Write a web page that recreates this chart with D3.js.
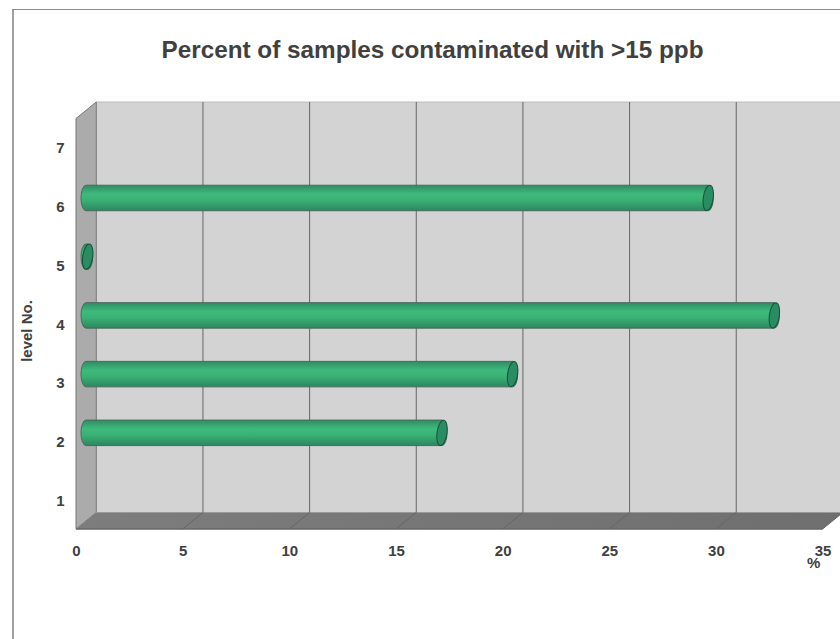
<!DOCTYPE html>
<html><head><meta charset="utf-8">
<script src="https://cdn.jsdelivr.net/npm/d3@7"></script>
<style>html,body{margin:0;background:#fff}svg{display:block;font-family:"Liberation Sans",Arial,sans-serif}</style>
</head><body><svg id="c" width="840" height="639"></svg>
<script>
const levels=[1,2,3,4,5,6,7];
const percents=[null,16.69,20.0,32.27,0.08,29.17,null];
const xTicks=[0,5,10,15,20,25,30,35];
const title="Percent of samples contaminated with >15 ppb";
const xTitle="%";
const yTitle="level No.";

const svg=d3.select("#c");
const x=d3.scaleLinear().domain([0,35]).range([76,822.6]);
const y=d3.scaleBand().domain(levels).range([529,118]);
const dx=20.3,dy=-16.5;
const wallTop=118.5,wallBot=529;
const x0=x(0),x1=x(35);

const defs=svg.append("defs");
const g=defs.append("linearGradient").attr("id","bar").attr("x1",0).attr("x2",0).attr("y1",0).attr("y2",1);
[[0,"#2f8c62"],[0.35,"#3fba7c"],[0.6,"#3ab074"],[1,"#2c8660"]].forEach(s=>g.append("stop").attr("offset",s[0]).attr("stop-color",s[1]));
const fg=defs.append("linearGradient").attr("id","floor").attr("x1",0).attr("x2",1).attr("y1",0).attr("y2",0);
[[0,"#7d7d7d"],[1,"#6f6f6f"]].forEach(s=>fg.append("stop").attr("offset",s[0]).attr("stop-color",s[1]));

// frame
svg.append("path").attr("d","M13,639V9").attr("fill","none").attr("stroke","#a0a0a0").attr("stroke-width",2);
svg.append("path").attr("d","M12,9.5H840").attr("fill","none").attr("stroke","#8c8c8c").attr("stroke-width",1);

// back wall
svg.append("path").attr("d",`M${x0+dx},${wallTop+dy}H840V${wallBot+dy}H${x0+dx}Z`).attr("fill","#d3d3d3").attr("stroke","none");
svg.append("path").attr("d",`M${x0+dx},${wallTop+dy}H840`).attr("stroke","#bdbdbd").attr("fill","none");
// left wall
svg.append("path").attr("d",`M${x0},${wallTop}L${x0+dx},${wallTop+dy}V${wallBot+dy}L${x0},${wallBot}Z`).attr("fill","#ababab").attr("stroke","#777").attr("stroke-width",1);
// floor
svg.append("path").attr("d",`M${x0},${wallBot}L${x0+dx},${wallBot+dy}H${x1+dx}L${x1},${wallBot}Z`).attr("fill","url(#floor)").attr("stroke","none");
svg.append("path").attr("d",`M${x0},${wallBot}H${x1}`).attr("stroke","#666").attr("stroke-width",1.5).attr("fill","none");
svg.append("path").attr("d",`M${x0+dx},${wallBot+dy}H${x1+dx}`).attr("stroke","#999").attr("fill","none");

// grid
const gr=svg.append("g").attr("fill","none").attr("stroke","#666");
xTicks.filter(t=>t>0).forEach(t=>{
  gr.append("path").attr("d",`M${x(t)},${wallBot}L${x(t)+dx},${wallBot+dy}V${wallTop+dy}`);
});

// bars
const bh=25.5,rx=5,off=10;
const bars=svg.append("g");
levels.forEach((l,i)=>{
  const v=percents[i]; if(v==null) return;
  const cy=y(l)+y.bandwidth()/2-8.1;
  const xa=x(0)+off, xb=x(v)+off;
  const t=cy-bh/2,b=cy+bh/2;
  bars.append("path").attr("d",`M${xa},${t}H${xb}A${rx},${bh/2} 0 0 1 ${xb},${b}H${xa}A${rx},${bh/2} 0 0 1 ${xa},${t}Z`)
    .attr("fill","url(#bar)").attr("stroke","#4a6b5a").attr("stroke-width",1);
  bars.append("ellipse").attr("cx",xb).attr("cy",cy).attr("rx",rx).attr("ry",bh/2)
    .attr("transform",`rotate(8 ${xb} ${cy})`)
    .attr("fill","#2a8c62").attr("stroke","#16503a").attr("stroke-width",1);
});

// axes
const tc="#404040";
const ax=svg.append("g").attr("transform",`translate(0,${wallBot})`).call(d3.axisBottom(x).tickValues(xTicks).tickSize(0).tickPadding(16));
ax.select(".domain").remove();
ax.selectAll("text").attr("font-family","inherit").attr("font-size",15).attr("font-weight","bold").attr("fill",tc);
const ay=svg.append("g").attr("transform",`translate(${x0},1.3)`).call(d3.axisLeft(y).tickSize(0).tickPadding(11.5));
ay.select(".domain").remove();
ay.selectAll("text").attr("font-family","inherit").attr("font-size",15).attr("font-weight","bold").attr("fill",tc);

svg.append("text").attr("x",432.5).attr("y",58).attr("text-anchor","middle").attr("font-size",24.3).attr("font-weight","bold").attr("fill",tc).text(title);
svg.append("text").attr("x",813.7).attr("y",568).attr("text-anchor","middle").attr("font-size",15).attr("font-weight","bold").attr("fill",tc).text(xTitle);
svg.append("text").attr("transform","translate(32,331) rotate(-90)").attr("text-anchor","middle").attr("font-size",15).attr("font-weight","bold").attr("fill",tc).text(yTitle);
</script></body></html>
